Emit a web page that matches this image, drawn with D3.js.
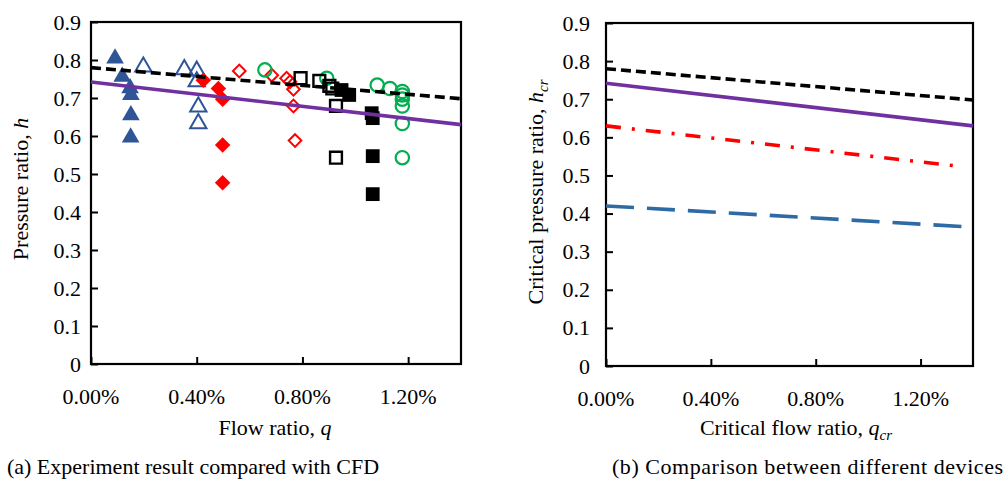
<!DOCTYPE html>
<html>
<head>
<meta charset="utf-8">
<script src="https://cdn.jsdelivr.net/npm/d3@7"></script>
<style>
  html, body { margin: 0; padding: 0; background: #fff; }
  svg { display: block; font-family: "Liberation Serif", "Times New Roman", serif; }
</style>
</head>
<body>
<svg id="chart" width="1003" height="487"></svg>
<script>
// Flow ratio q (%) and pressure ratio h for each measured device
const filledTriangles = [[0.091,0.804],[0.118,0.756],[0.148,0.726],[0.151,0.708],[0.151,0.655],[0.150,0.596]];
const openTriangles   = [[0.198,0.782],[0.353,0.775],[0.400,0.771],[0.400,0.743],[0.406,0.677],[0.406,0.633]];
const filledDiamonds  = [[0.425,0.747],[0.482,0.725],[0.498,0.697],[0.498,0.576],[0.498,0.477]];
const openDiamonds    = [[0.561,0.771],[0.684,0.760],[0.740,0.752],[0.753,0.743],[0.766,0.723],[0.766,0.679],[0.772,0.588]];
const openCircles     = [[0.658,0.774],[0.892,0.752],[1.083,0.734],[1.131,0.725],[1.178,0.717],[1.178,0.708],[1.178,0.697],[1.178,0.679],[1.178,0.633],[1.178,0.543]];
const openSquares     = [[0.793,0.752],[0.864,0.745],[0.902,0.732],[0.913,0.725],[0.927,0.679],[0.927,0.543]];
const filledSquares   = [[0.948,0.721],[0.977,0.708],[1.062,0.660],[1.066,0.647],[1.066,0.547],[1.066,0.447]];

// Critical pressure ratio lines (q %, h)
const lineBlack  = [[0, 0.780], [1.40, 0.698]];
const linePurple = [[0, 0.742], [1.40, 0.630]];
const lineRed    = [[0, 0.630], [1.36, 0.523]];
const lineBlue   = [[0, 0.420], [1.36, 0.366]];

// Axis ticks
const xTicks = [0, 0.4, 0.8, 1.2];
const yTicks = [0, 0.1, 0.2, 0.3, 0.4, 0.5, 0.6, 0.7, 0.8, 0.9];
const xDomain = [0, 1.4];
const yDomain = [0, 0.9];

const svg = d3.select("#chart");

function panel(box) {
  const x = d3.scaleLinear().domain(xDomain).range([box.left, box.right]);
  const y = d3.scaleLinear().domain(yDomain).range([box.bottom, box.top]);
  const g = svg.append("g");

  // inward ticks
  g.append("g").attr("transform", `translate(0,${box.bottom})`)
    .call(d3.axisBottom(x).tickValues(xTicks).tickSize(-7).tickFormat(""))
    .call(a => a.select(".domain").remove())
    .call(a => a.selectAll("line").attr("stroke", "#000").attr("stroke-width", 2));
  g.append("g").attr("transform", `translate(${box.left},0)`)
    .call(d3.axisLeft(y).tickValues(yTicks).tickSize(-7).tickFormat(""))
    .call(a => a.select(".domain").remove())
    .call(a => a.selectAll("line").attr("stroke", "#000").attr("stroke-width", 2));

  // tick labels
  g.selectAll(".xl").data(xTicks).join("text")
    .attr("x", d => x(d)).attr("y", box.bottom + 40)
    .attr("text-anchor", "middle").attr("font-size", 22).attr("fill", "#000")
    .text(d => d3.format(".2f")(d) + "%");
  g.selectAll(".yl").data(yTicks).join("text")
    .attr("x", box.left - box.labelGap).attr("y", d => y(d) + 7.5)
    .attr("text-anchor", "end").attr("font-size", 22).attr("fill", "#000")
    .text(d => d === 0 ? "0" : d3.format(".1f")(d));

  // frame
  g.append("rect")
    .attr("x", box.left).attr("y", box.top)
    .attr("width", box.right - box.left).attr("height", box.bottom - box.top)
    .attr("fill", "none").attr("stroke", "#000").attr("stroke-width", 2.2);

  return { x, y, g };
}

function drawLine(p, data, color, dash) {
  const line = d3.line().x(d => p.x(d[0])).y(d => p.y(d[1]));
  p.g.append("path").datum(data)
    .attr("d", line).attr("fill", "none")
    .attr("stroke", color).attr("stroke-width", 3.6)
    .attr("stroke-dasharray", dash || null);
}

function drawMarkers(p, data, type, size, fill, stroke, sw, rotate) {
  const sym = d3.symbol().type(type).size(size);
  p.g.append("g").selectAll("path").data(data).join("path")
    .attr("d", sym)
    .attr("transform", d => `translate(${p.x(d[0])},${p.y(d[1])})` + (rotate ? " rotate(45)" : ""))
    .attr("fill", fill).attr("stroke", stroke).attr("stroke-width", sw);
}

// ---------- (a) experiment vs CFD ----------
const a = panel({ left: 91, right: 461, top: 22, bottom: 364, labelGap: 10 });
const blue = "#2F5597", red = "#FF0000", green = "#00B050";
drawMarkers(a, filledTriangles, d3.symbolTriangle, 135, blue, "none", 0);
drawMarkers(a, openTriangles, d3.symbolTriangle, 115, "none", blue, 2);
drawMarkers(a, filledDiamonds, d3.symbolSquare, 120, red, "none", 0, true);
drawMarkers(a, openDiamonds, d3.symbolSquare, 80, "none", red, 2, true);
drawMarkers(a, openCircles, d3.symbolCircle, 140, "none", green, 2.2);
drawMarkers(a, openSquares, d3.symbolSquare, 140, "none", "#000", 2.4);
drawMarkers(a, filledSquares, d3.symbolSquare, 190, "#000", "none", 0);
drawLine(a, lineBlack, "#000", "10,5");
drawLine(a, linePurple, "#7030A0");

// ---------- (b) different devices ----------
const b = panel({ left: 606, right: 973, top: 23, bottom: 366, labelGap: 16 });
drawLine(b, lineBlack, "#000", "10,5");
drawLine(b, linePurple, "#7030A0");
drawLine(b, lineRed, "#FF0000", "15,11,3,11");
drawLine(b, lineBlue, "#2E6BA4", "28,13");

// ---------- titles ----------
svg.append("text").attr("x", 275).attr("y", 435).attr("text-anchor", "middle")
  .attr("font-size", 22)
  .call(t => { t.append("tspan").text("Flow ratio, "); t.append("tspan").attr("font-style", "italic").text("q"); });

svg.append("text").attr("x", 796).attr("y", 435).attr("text-anchor", "middle")
  .attr("font-size", 22)
  .call(t => {
    t.append("tspan").text("Critical flow ratio, ");
    t.append("tspan").attr("font-style", "italic").text("q");
    t.append("tspan").attr("font-style", "italic").attr("font-size", 15).attr("dy", 5).text("cr");
  });

svg.append("text").attr("transform", "translate(28,189) rotate(-90)").attr("text-anchor", "middle")
  .attr("font-size", 22)
  .call(t => { t.append("tspan").text("Pressure ratio, "); t.append("tspan").attr("font-style", "italic").text("h"); });

svg.append("text").attr("transform", "translate(543,192) rotate(-90)").attr("text-anchor", "middle")
  .attr("font-size", 22)
  .call(t => {
    t.append("tspan").text("Critical pressure ratio, ");
    t.append("tspan").attr("font-style", "italic").text("h");
    t.append("tspan").attr("font-style", "italic").attr("font-size", 15).attr("dy", 5).text("cr");
  });

svg.append("text").attr("x", 193).attr("y", 474).attr("text-anchor", "middle")
  .attr("font-size", 22).text("(a) Experiment result compared with CFD");
svg.append("text").attr("x", 612).attr("y", 474).attr("text-anchor", "start")
  .attr("font-size", 22).attr("textLength", 391).attr("lengthAdjust", "spacing")
  .text("(b) Comparison between different devices");
</script>
</body>
</html>
